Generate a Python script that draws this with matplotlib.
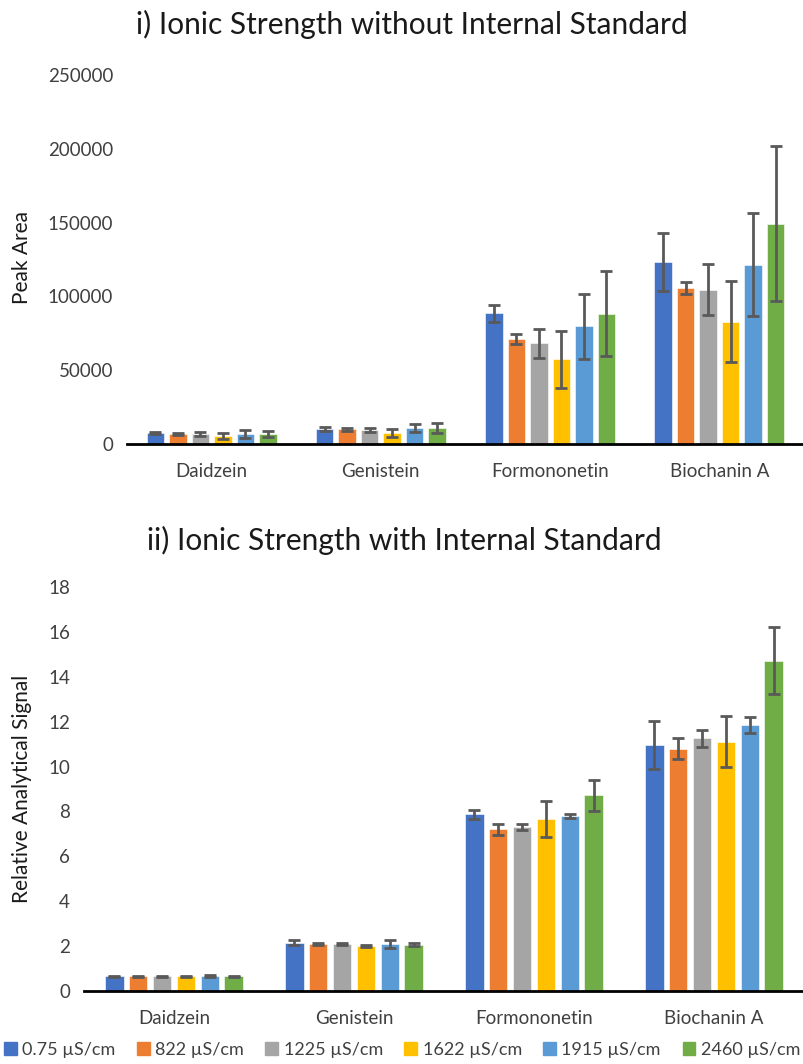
import numpy as np
import matplotlib
matplotlib.use('Agg')
import matplotlib.pyplot as plt
from matplotlib.patches import Patch

plt.rcParams['font.family'] = ['Lato', 'DejaVu Sans']

compounds = ['Daidzein', 'Genistein', 'Formononetin', 'Biochanin A']
series = ['0.75 µS/cm', '822 µS/cm', '1225 µS/cm', '1622 µS/cm', '1915 µS/cm', '2460 µS/cm']
colors = ['#4472C4', '#ED7D31', '#A5A5A5', '#FFC000', '#5B9BD5', '#70AD47']

# i) peak area, rows = series, columns = compounds
area = [[7600, 10200, 88500, 123100],
        [6800, 9900, 71300, 105900],
        [6500, 9500, 68200, 104500],
        [5400, 7200, 57400, 82900],
        [6800, 10600, 79700, 121500],
        [6800, 10600, 88300, 149300]]
area_err = [[800, 1500, 6000, 19700],
            [600, 900, 3400, 4000],
            [1300, 1500, 10000, 17400],
            [1800, 2700, 19300, 27400],
            [2700, 2700, 21900, 35100],
            [2200, 3400, 29000, 52600]]

# ii) relative analytical signal
ras = [[0.66, 2.15, 7.87, 10.96],
       [0.66, 2.08, 7.20, 10.80],
       [0.66, 2.08, 7.31, 11.26],
       [0.66, 2.02, 7.66, 11.11],
       [0.67, 2.08, 7.81, 11.87],
       [0.66, 2.07, 8.72, 14.72]]
ras_err = [[0.03, 0.12, 0.20, 1.09],
           [0.03, 0.05, 0.24, 0.46],
           [0.03, 0.05, 0.15, 0.38],
           [0.03, 0.05, 0.80, 1.15],
           [0.05, 0.18, 0.09, 0.36],
           [0.03, 0.05, 0.69, 1.50]]

W, H = 804, 1064
fig = plt.figure(figsize=(W / 100, H / 100), dpi=100)


def px_axes(left, top, right, bottom):
    return fig.add_axes([left / W, 1 - bottom / H, (right - left) / W, (bottom - top) / H])


def draw(ax, vals, errs, ymax, step):
    x = np.arange(len(compounds))
    for i in range(len(series)):
        off = (i - 2.5) * 0.133
        ax.bar(x + off, vals[i], 0.104, color=colors[i], edgecolor='white', linewidth=0.4,
               yerr=errs[i], capsize=4.5, label=series[i],
               error_kw=dict(ecolor='#595959', elinewidth=2, capthick=2))
    ax.set_xlim(-0.5, 3.5)
    ax.set_ylim(0, ymax)
    ax.set_yticks(np.arange(0, ymax + step / 2, step))
    ax.set_xticks(x)
    ax.set_xticklabels(compounds)
    for s in ['top', 'right', 'left']:
        ax.spines[s].set_visible(False)
    ax.spines['bottom'].set_linewidth(2)
    ax.tick_params(length=0, labelsize=13.5, colors='#404040', pad=10)
    ax.tick_params(axis='x', pad=14)


ax1 = px_axes(127, 75, 804, 444)
draw(ax1, area, area_err, 250000, 50000)
ax2 = px_axes(84, 587, 804, 991)
draw(ax2, ras, ras_err, 18, 2)

fig.text(412 / W, 1 - 24 / H, 'i) Ionic Strength without Internal Standard', ha='center', va='center',
         fontsize=21.5, color='#1a1a1a')
fig.text(404 / W, 1 - 540 / H, 'ii) Ionic Strength with Internal Standard', ha='center', va='center',
         fontsize=21.5, color='#1a1a1a')
fig.text(22 / W, 1 - 258 / H, 'Peak Area', rotation=90, ha='center', va='center', fontsize=15,
         color='#1a1a1a')
fig.text(22 / W, 1 - 789 / H, 'Relative Analytical Signal', rotation=90, ha='center', va='center',
         fontsize=15, color='#1a1a1a')

handles = [Patch(color=c) for c in colors]
fig.legend(handles, series, loc='center', bbox_to_anchor=(0.5, 1 - 1050 / H), ncol=6, frameon=False,
           fontsize=13, handlelength=0.7, handleheight=0.7, handletextpad=0.3, columnspacing=1.2,
           labelcolor='#404040')

fig.savefig('out.png', dpi=100)
